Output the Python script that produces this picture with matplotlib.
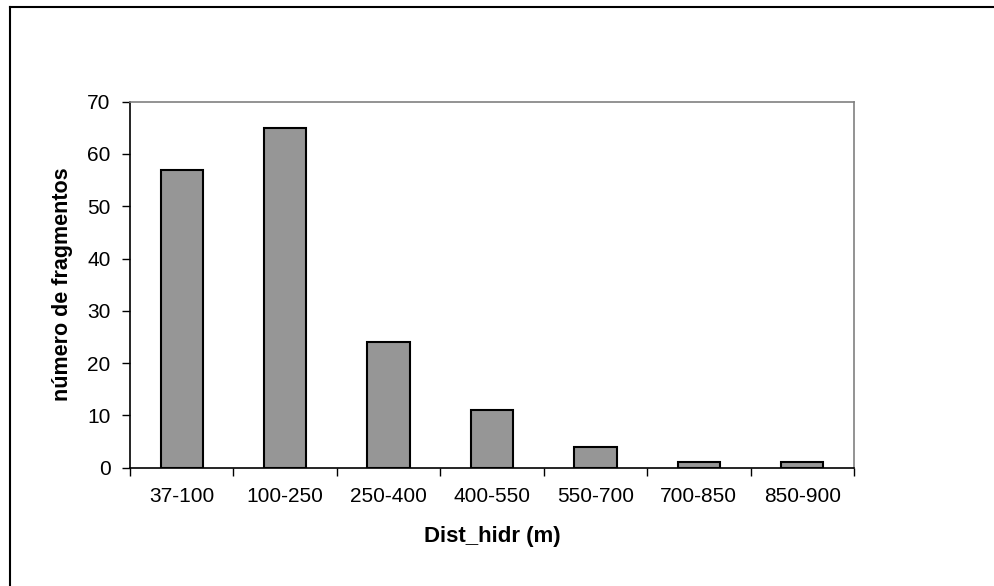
import matplotlib.pyplot as plt
from matplotlib.lines import Line2D
import numpy as np

plt.rcParams["font.family"] = ["Liberation Sans", "DejaVu Sans"]

categories = ["37-100", "100-250", "250-400", "400-550", "550-700", "700-850", "850-900"]
counts = [57, 65, 24, 11, 4, 1, 1]
y_ticks = [0, 10, 20, 30, 40, 50, 60, 70]

fig = plt.figure(figsize=(9.95, 5.86), dpi=100)
ax = fig.add_axes([0.1307, 0.2019, 0.7276, 0.6246])

x = np.arange(len(categories))
ax.bar(x, counts, width=0.41, color="#969696", edgecolor="black", linewidth=1.5, zorder=3)

ax.set_xlim(-0.5, len(categories) - 0.5)
ax.set_ylim(0, 70)
ax.set_yticks(y_ticks)
ax.set_xticks(x)
ax.set_xticklabels(categories)
ax.set_xticks(np.arange(-0.5, len(categories)), minor=True)
ax.tick_params(axis="x", which="major", length=0, pad=14, labelsize=15)
ax.tick_params(axis="x", which="minor", length=6, width=1, direction="out")
ax.tick_params(axis="y", length=6, width=1, direction="out", pad=8, labelsize=15)

for side in ["left", "bottom"]:
    ax.spines[side].set_color("black")
    ax.spines[side].set_linewidth(1.2)
for side in ["top", "right"]:
    ax.spines[side].set_color("#808080")
    ax.spines[side].set_linewidth(1.2)

ax.set_ylabel("número de fragmentos", fontsize=15.5, fontweight="bold", labelpad=10)
ax.set_xlabel("Dist_hidr (m)", fontsize=16, fontweight="bold", labelpad=14)

# chart area border (only top and left visible in the original crop)
fig.add_artist(Line2D([10 / 995, 1.0], [1 - 7 / 586, 1 - 7 / 586], transform=fig.transFigure, color="black", linewidth=1.5))
fig.add_artist(Line2D([10 / 995, 10 / 995], [0.0, 1 - 7 / 586], transform=fig.transFigure, color="black", linewidth=1.5))

fig.savefig("out.png", dpi=100)
